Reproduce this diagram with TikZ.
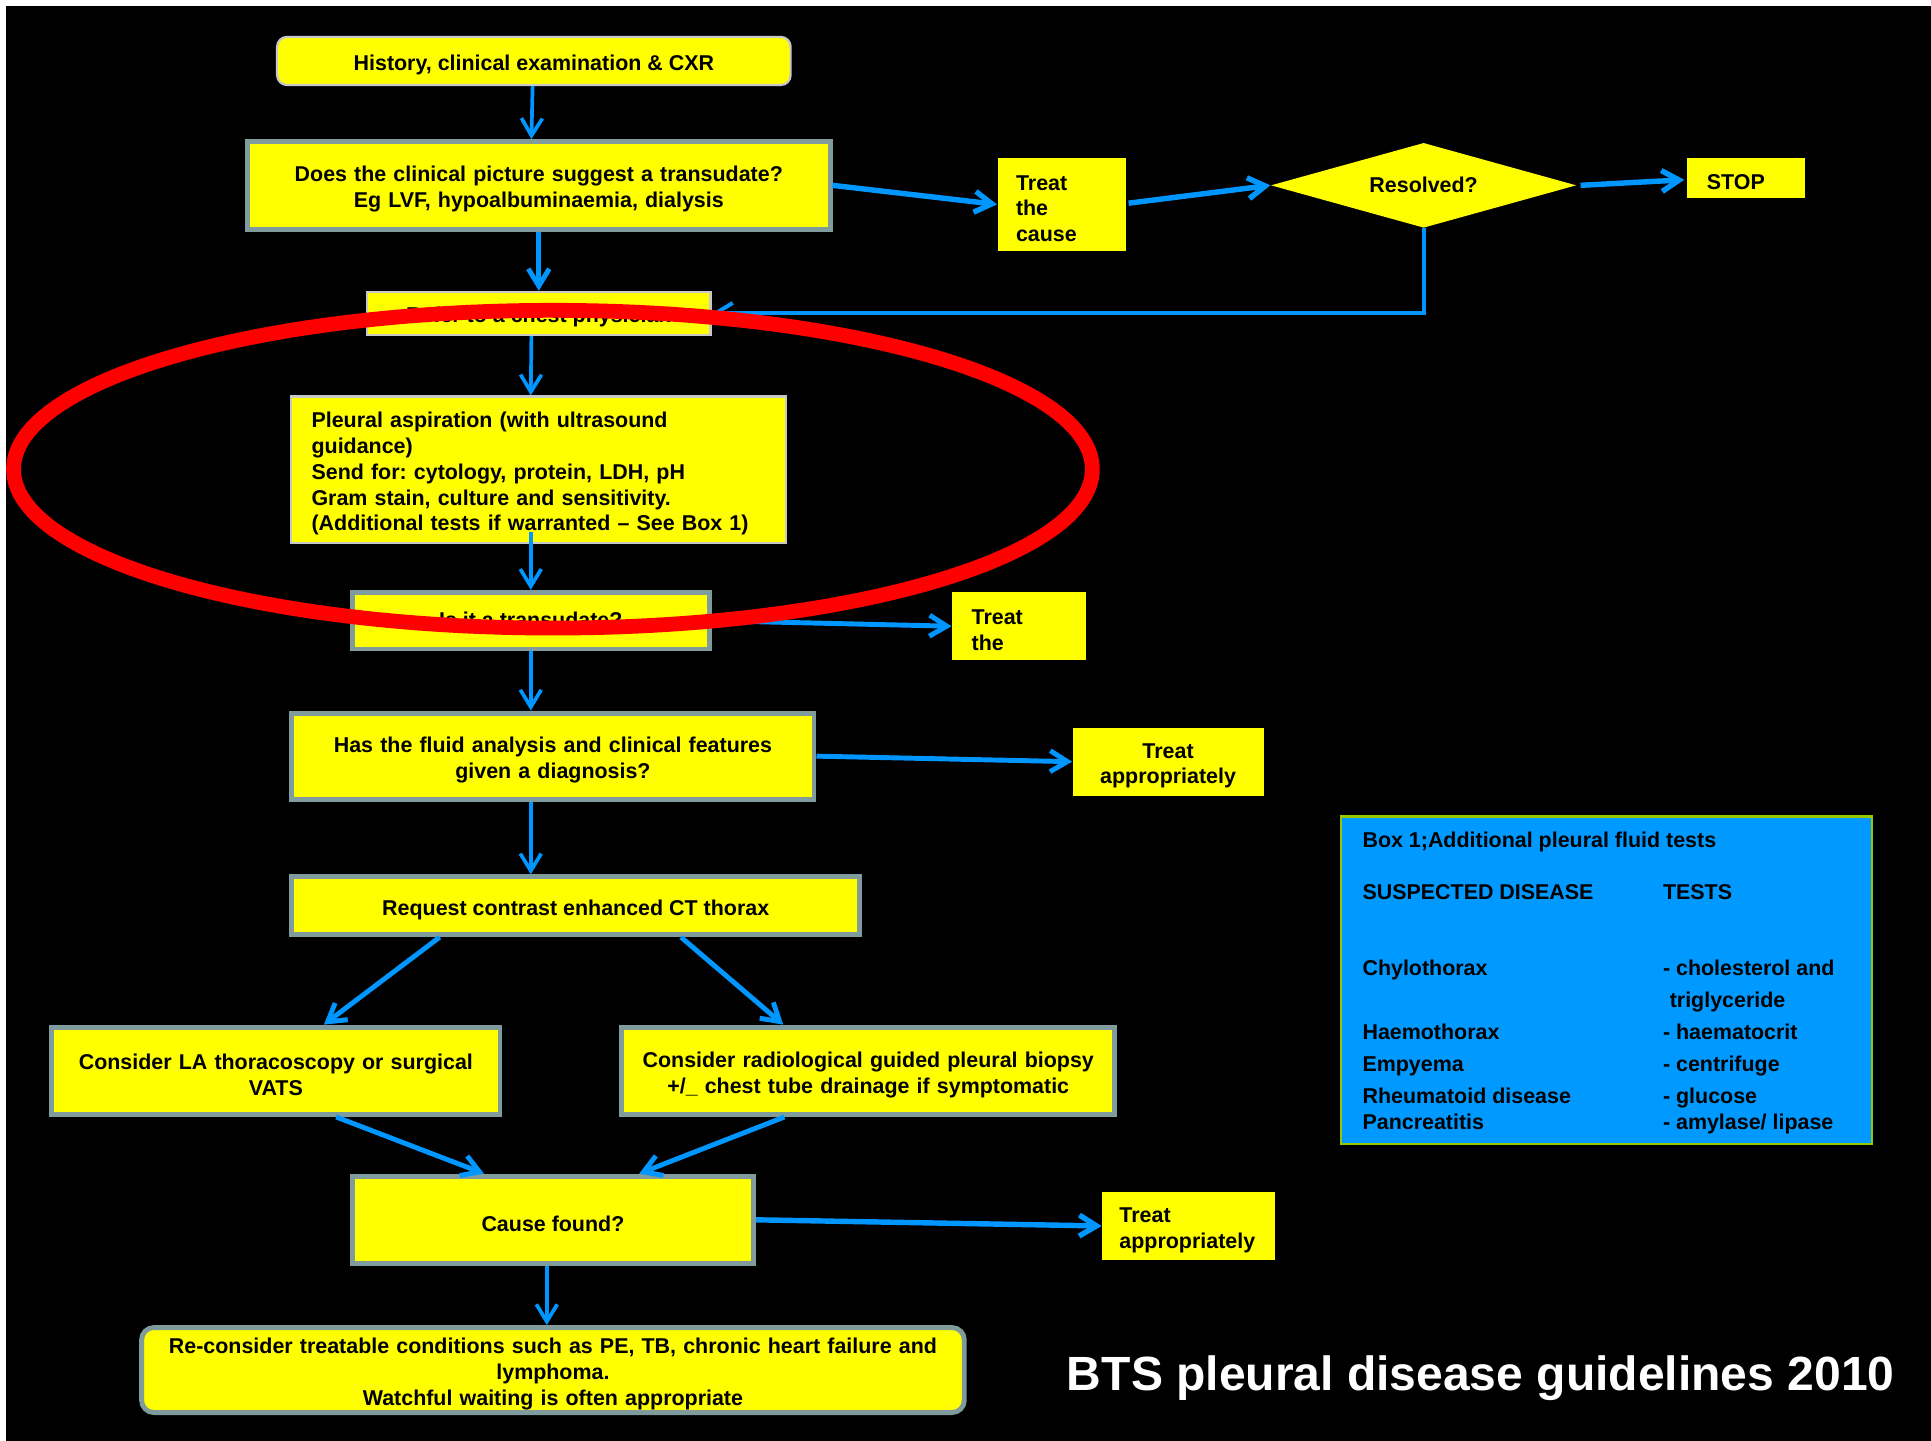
\documentclass[tikz,border=0pt]{standalone}
\usepackage{fontspec}
\setmainfont{Liberation Sans}
\usetikzlibrary{arrows.meta,shapes.geometric,calc}
\definecolor{ylw}{RGB}{255,255,0}
\definecolor{boxgray}{RGB}{128,155,155}
\definecolor{lightgr}{RGB}{200,200,200}
\definecolor{arrowblue}{RGB}{0,150,255}
\definecolor{boxblue}{RGB}{0,153,255}
\definecolor{boxgreen}{RGB}{150,200,0}
\definecolor{redring}{RGB}{255,0,0}
\newcommand{\topstrut}{\rule{0pt}{9.4pt}}
\tikzset{
  basebox/.style={font=\bfseries\fontsize{8.7}{10.5}\selectfont\frenchspacing, text=black, fill=ylw, inner sep=0pt, align=center, execute at begin node=\topstrut},
  thickbox/.style={basebox, draw=boxgray, line width=2pt},
  thinbox/.style={basebox, draw=lightgr, line width=0.9pt},
  plainbox/.style={basebox},
  arr/.style={draw=arrowblue, -{Straight Barb[length=7pt,width=8.5pt]}, line width=1.5pt},
  thickarr/.style={arr, line width=2.2pt},
  boxline/.style={font=\bfseries\fontsize{8.7}{10.5}\selectfont\frenchspacing, text=black, anchor=base west, inner sep=0pt},
}
\begin{document}
\begin{tikzpicture}[x=0.5pt,y=-0.5pt]
\useasboundingbox (0,0) rectangle (1568,1170);
\fill[white] (0,0) rectangle (1568,1170);
\fill[black] (5,5) rectangle (1568,1170);

% boxes
\node[thinbox, rounded corners=4pt, minimum width=208.5pt, minimum height=19.5pt] (A) at (433.5,49.5) {History, clinical examination \& CXR};
\node[thickbox, text width=236.5pt, minimum height=35.5pt] (B) at (437.5,150.5) {Does the clinical picture suggest a transudate?\\Eg LVF, hypoalbuminaemia, dialysis};
\node[plainbox, align=left, text width=37pt, inner xsep=7.5pt, minimum height=38pt] (TC) at (862,166) {Treat\\the\\cause};
\node[shape=diamond, aspect=3.6, fill=ylw, inner sep=0pt, minimum width=124pt, minimum height=34.5pt, font=\bfseries\fontsize{8.7}{10.5}\selectfont] (Res) at (1156,150.5) {Resolved?};
\node[plainbox, align=left, text width=32pt, inner xsep=8pt, minimum height=16.5pt] (STOP) at (1418,144.5) {STOP};
\node[thinbox, minimum width=139.5pt, minimum height=17.5pt] (Refer) at (437.5,254.5) {Refer to a chest physician};
\node[thinbox, align=left, text width=184pt, inner xsep=8.5pt, minimum height=59.5pt] (Pleural) at (437,381.5) {Pleural aspiration (with ultrasound\\guidance)\\Send for: cytology, protein, LDH, pH\\Gram stain, culture and sensitivity.\\(Additional tests if warranted -- See Box 1)};
\node[thickbox, execute at begin node={}, text depth=3.5pt, minimum width=145pt, minimum height=23pt] (Is) at (431,504) {Is it a transudate?};
\node[plainbox, align=left, text width=38.5pt, inner xsep=8pt, minimum height=27.5pt] (TT) at (827.5,508.5) {Treat\\the};
\node[thickbox, text width=212pt, minimum height=35pt] (Has) at (449,614) {Has the fluid analysis and clinical features\\given a diagnosis?};
\node[plainbox, text width=77.5pt, minimum height=27.5pt] (TA1) at (948.5,618.5) {Treat\\appropriately};
\node[thickbox, minimum width=230.5pt, minimum height=23.5pt] (CT) at (467.5,735.5) {Request contrast enhanced CT thorax};
\node[thickbox, text width=182pt, minimum height=35.5pt] (LA) at (224,869.5) {Consider LA thoracoscopy or surgical\\VATS};
\node[thickbox, text width=200pt, minimum height=35.5pt] (Radio) at (705,869.5) {Consider radiological guided pleural biopsy\\+/\_ chest tube drainage if symptomatic};
\node[thickbox, minimum width=163pt, minimum height=35.5pt] (Cause) at (449,990.5) {Cause found?};
\node[plainbox, align=left, text width=56pt, inner xsep=7pt, minimum height=27.5pt] (TA2) at (965,995.5) {Treat\\appropriately};
\node[thickbox, rounded corners=5pt, text width=334pt, minimum height=34.5pt] (Recon) at (449,1112.5) {Re-consider treatable conditions such as PE, TB, chronic heart failure and\\lymphoma.\\Watchful waiting is often appropriate};

% Box 1
\node[fill=boxblue, draw=boxgreen, line width=1pt, inner sep=0pt, minimum width=215.5pt, minimum height=133pt] (Box) at (1304.5,796) {};
\node[boxline] (b0) at (1106,688.5) {Box 1;Additional pleural fluid tests};
\node[boxline] (b1l) at (1106,730) {SUSPECTED DISEASE};
\node[boxline] (b1r) at (1350,730) {TESTS};
\node[boxline] (b2l) at (1106,792) {Chylothorax};
\node[boxline] (b2r) at (1350,792) {- cholesterol and};
\node[boxline] (b3r) at (1355.5,818) {triglyceride};
\node[boxline] (b4l) at (1106,844) {Haemothorax};
\node[boxline] (b4r) at (1350,844) {- haematocrit};
\node[boxline] (b5l) at (1106,870) {Empyema};
\node[boxline] (b5r) at (1350,870) {- centrifuge};
\node[boxline] (b6l) at (1106,896) {Rheumatoid disease};
\node[boxline] (b6r) at (1350,896) {- glucose};
\node[boxline] (b7l) at (1106,917.5) {Pancreatitis};
\node[boxline] (b7r) at (1350,917.5) {- amylase/ lipase};

% connectors
\draw[arr] ($(A.south)+(-1,0)$) -- ($(B.north)+(-6,0)$);
\draw[arr, line width=2pt] (B.south) -- (Refer.north);
\draw[arr] ($(Refer.south)+(-6,0)$) -- ($(Pleural.north)+(-6,0)$);
\draw[arr] ($(Pleural.south)+(-6,-10)$) -- (Is.north);
\draw[arr] (Is.south) -- ($(Has.north)+(-18,0)$);
\draw[arr] ($(Has.south)+(-18,0)$) -- ($(CT.north)+(-36.5,0)$);
\draw[thickarr, line width=2pt] ($(CT.south)+(-110.5,0)$) -- ($(LA.north)+(39,0)$);
\draw[thickarr, line width=2pt] ($(CT.south)+(85.5,0)$) -- ($(Radio.north)+(-69,0)$);
\draw[thickarr, line width=2pt] ($(LA.south)+(49,0)$) -- ($(Cause.north)+(-56,0)$);
\draw[thickarr, line width=2pt] ($(Radio.south)+(-68,0)$) -- ($(Cause.north)+(70,0)$);
\draw[arr] ($(Cause.south)+(-5,0)$) -- ($(Recon.north)+(-5,0)$);
\draw[thickarr] (B.east) -- (TC.west);
\draw[thickarr] ($(TC.east)+(2,-1)$) -- (Res.west);
\draw[thickarr] ($(Res.east)+(3,0)$) -- ($(STOP.west)+(-2,1.5)$);
\draw[arr, line width=1.6pt] (Res.south) |- (Refer.east);
\draw[thickarr, line width=2pt] (Is.east) -- (TT.west);
\draw[thickarr, line width=2pt] (Has.east) -- (TA1.west);
\draw[thickarr] (Cause.east) -- (TA2.west);

% red ring
\draw[redring, line width=6pt] (449,381) ellipse [x radius=219pt, y radius=64.5pt];

% title
\node[font=\bfseries\fontsize{19.5}{22}\selectfont, text=white, anchor=base west, inner sep=0pt] (title) at (866,1129) {BTS pleural disease guidelines 2010};
\end{tikzpicture}
\end{document}
